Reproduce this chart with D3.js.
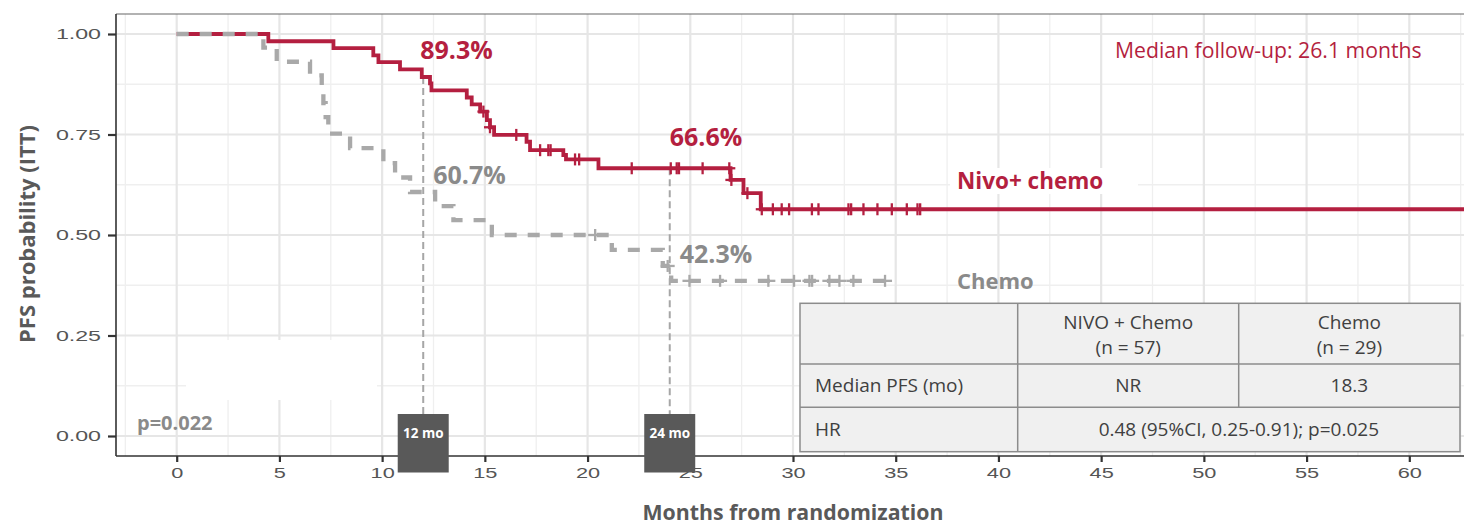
<!DOCTYPE html>
<html>
<head>
<meta charset="utf-8">
<script src="https://cdn.jsdelivr.net/npm/d3@7"></script>
<style>
  html, body { margin: 0; padding: 0; background: #ffffff; }
  svg { display: block; }
</style>
</head>
<body>
<svg id="chart" width="1464" height="525"></svg>
<script>
// ---- Kaplan-Meier data (months, survival probability after each event) ----
const nivoEventMonths = [4.46, 7.63, 9.57, 9.82, 10.87, 11.93, 12.33, 12.40, 14.12, 14.36, 14.77, 15.10, 15.25, 15.45, 17.03, 17.20, 18.82, 18.95, 20.53, 26.96, 27.59, 28.43];
const nivoSurvival    = [0.982, 0.965, 0.947, 0.930, 0.912, 0.893, 0.877, 0.860, 0.842, 0.825, 0.807, 0.786, 0.768, 0.749, 0.732, 0.711, 0.699, 0.688, 0.666, 0.637, 0.604, 0.564];
const nivoCensorMonths = [14.93, 15.25, 16.53, 17.69, 18.09, 18.20, 19.39, 19.59, 22.15, 24.05, 24.34, 24.45, 25.60, 26.90, 27.00, 27.78, 28.48, 29.02, 29.45, 29.81, 30.92, 31.24, 32.70, 32.83, 33.43, 34.11, 34.81, 35.54, 36.06, 36.19];
const nivoLastMonth = 63;

const chemoEventMonths = [4.22, 4.87, 6.49, 7.06, 7.14, 7.25, 7.38, 8.44, 10.06, 10.63, 11.36, 12.58, 13.47, 15.34, 21.18, 23.66, 24.07];
const chemoSurvival    = [0.966, 0.931, 0.897, 0.862, 0.828, 0.793, 0.752, 0.716, 0.679, 0.643, 0.607, 0.572, 0.537, 0.500, 0.463, 0.423, 0.386];
const chemoCensorMonths = [20.37, 23.90, 24.96, 26.45, 28.80, 30.05, 30.80, 30.93, 31.77, 32.26, 32.94, 34.48];
const chemoLastMonth = 34.9;

// landmark estimates
const landmarkMonths = [12, 24];
const nivoLandmarkPFS = [0.893, 0.666];
const chemoLandmarkPFS = [0.607, 0.423];
const landmarkLabels = ["12 mo", "24 mo"];

// axes
const xTickValues = [0, 5, 10, 15, 20, 25, 30, 35, 40, 45, 50, 55, 60];
const yTickValues = [0, 0.25, 0.5, 0.75, 1];

// summary table
const tableHeader = ["", ["NIVO + Chemo", "(n = 57)"], ["Chemo", "(n = 29)"]];
const tableMedianRow = ["Median PFS (mo)", "NR", "18.3"];
const tableHRRow = ["HR", "0.48 (95%CI, 0.25-0.91); p=0.025"];

// ---- styling ----
const RED = "#b41f40";
const GREY_LINE = "#a9a9a9";
const GREY_TEXT = "#8a8a8a";
const BOLD_FONT = "'Open Sans', 'Noto Sans', sans-serif";
const TICK_FONT = "'Liberation Sans', Arial, sans-serif";

const svg = d3.select("#chart");
const panel = { left: 116, right: 1464, top: 14, bottom: 456 };

const x = d3.scaleLinear().domain([0, 60]).range([176.7, 1409.3]);
const y = d3.scaleLinear().domain([0, 1]).range([436, 34]);

svg.append("defs").append("clipPath").attr("id", "panelClip")
  .append("rect")
  .attr("x", panel.left).attr("y", panel.top)
  .attr("width", panel.right - panel.left).attr("height", panel.bottom - panel.top);

// ---- grid ----
const grid = svg.append("g");
const xMax = x.invert(panel.right);
const xMinor = d3.range(-2.5, xMax, 5);
const yMinor = d3.range(0.125, 1.01, 0.25);
grid.selectAll(".vminor").data(xMinor).join("line")
  .attr("x1", d => x(d)).attr("x2", d => x(d))
  .attr("y1", panel.top).attr("y2", panel.bottom)
  .attr("stroke", "#efefef").attr("stroke-width", 1.3);
grid.selectAll(".hminor").data(yMinor).join("line")
  .attr("y1", d => y(d)).attr("y2", d => y(d))
  .attr("x1", panel.left).attr("x2", panel.right)
  .attr("stroke", "#efefef").attr("stroke-width", 1.3);
grid.selectAll(".vmajor").data(xTickValues.concat([65])).join("line")
  .attr("x1", d => x(d)).attr("x2", d => x(d))
  .attr("y1", panel.top).attr("y2", panel.bottom)
  .attr("stroke", "#e6e6e6").attr("stroke-width", 2.2);
grid.selectAll(".hmajor").data(yTickValues).join("line")
  .attr("y1", d => y(d)).attr("y2", d => y(d))
  .attr("x1", panel.left).attr("x2", panel.right)
  .attr("stroke", "#e6e6e6").attr("stroke-width", 2);

// blank patches over the grid
svg.append("rect").attr("x", 186).attr("y", 340).attr("width", 191).attr("height", 60).attr("fill", "#ffffff");
svg.append("rect").attr("x", 950).attr("y", 168).attr("width", 188).attr("height", 26).attr("fill", "#ffffff");

// ---- landmark reference lines ----
const refG = svg.append("g");
landmarkMonths.forEach((m, i) => {
  refG.append("line")
    .attr("x1", x(m)).attr("x2", x(m))
    .attr("y1", y(nivoLandmarkPFS[i])).attr("y2", 414)
    .attr("stroke", "#a6a6a6").attr("stroke-width", 2)
    .attr("stroke-dasharray", "7,4");
});

// ---- curves ----
function stepPoints(times, surv, last) {
  const pts = [[0, 1]];
  times.forEach((t, i) => pts.push([t, surv[i]]));
  pts.push([last, surv[surv.length - 1]]);
  return pts;
}
function survivalAt(times, surv, t) {
  let s = 1;
  times.forEach((tt, i) => { if (tt <= t) s = surv[i]; });
  return s;
}
const stepLine = d3.line().x(d => x(d[0])).y(d => y(d[1])).curve(d3.curveStepAfter);

const curves = svg.append("g").attr("clip-path", "url(#panelClip)");

curves.append("path")
  .attr("d", stepLine(stepPoints(nivoEventMonths, nivoSurvival, nivoLastMonth)))
  .attr("fill", "none").attr("stroke", RED).attr("stroke-width", 3.8);

const nivoCensors = curves.append("g");
nivoCensorMonths.forEach(t => {
  const cx = x(t), cy = y(survivalAt(nivoEventMonths, nivoSurvival, t));
  nivoCensors.append("line").attr("x1", cx).attr("x2", cx).attr("y1", cy - 6).attr("y2", cy + 6)
    .attr("stroke", RED).attr("stroke-width", 2.3);
  nivoCensors.append("line").attr("x1", cx - 6).attr("x2", cx + 6).attr("y1", cy).attr("y2", cy)
    .attr("stroke", RED).attr("stroke-width", 2.3);
});

curves.append("path")
  .attr("d", stepLine(stepPoints(chemoEventMonths, chemoSurvival, chemoLastMonth)))
  .attr("fill", "none").attr("stroke", GREY_LINE).attr("stroke-width", 4.3)
  .attr("stroke-dasharray", "12,11");

const chemoCensors = curves.append("g");
chemoCensorMonths.forEach(t => {
  const cx = x(t), cy = y(survivalAt(chemoEventMonths, chemoSurvival, t));
  chemoCensors.append("line").attr("x1", cx).attr("x2", cx).attr("y1", cy - 6).attr("y2", cy + 6)
    .attr("stroke", GREY_LINE).attr("stroke-width", 2.3);
  chemoCensors.append("line").attr("x1", cx - 7).attr("x2", cx + 7).attr("y1", cy).attr("y2", cy)
    .attr("stroke", GREY_LINE).attr("stroke-width", 2.3);
});

// ---- landmark percentages ----
const pct = d3.format(".1%");
const nivoLabelOffsets = [[-3, -18], [0, -22]];
const chemoLabelOffsets = [[10, -8], [10, -3]];
landmarkMonths.forEach((m, i) => {
  svg.append("text")
    .attr("x", x(m) + nivoLabelOffsets[i][0]).attr("y", y(nivoLandmarkPFS[i]) + nivoLabelOffsets[i][1])
    .attr("font-family", BOLD_FONT).attr("font-weight", 700).attr("font-size", 25)
    .attr("fill", RED).text(pct(nivoLandmarkPFS[i]));
  svg.append("text")
    .attr("x", x(m) + chemoLabelOffsets[i][0]).attr("y", y(chemoLandmarkPFS[i]) + chemoLabelOffsets[i][1])
    .attr("font-family", BOLD_FONT).attr("font-weight", 700).attr("font-size", 25)
    .attr("fill", GREY_TEXT).text(pct(chemoLandmarkPFS[i]));
});

// curve names, follow-up, p-value
svg.append("text").attr("x", 957).attr("y", 189)
  .attr("font-family", BOLD_FONT).attr("font-weight", 700).attr("font-size", 22.5)
  .attr("fill", RED).text("Nivo+ chemo");
svg.append("text").attr("x", 957).attr("y", 289)
  .attr("font-family", BOLD_FONT).attr("font-weight", 700).attr("font-size", 22)
  .attr("fill", GREY_TEXT).text("Chemo");
svg.append("text").attr("x", 1115).attr("y", 58)
  .attr("font-family", BOLD_FONT).attr("font-weight", 400).attr("font-size", 21.2)
  .attr("fill", RED).text("Median follow-up: 26.1 months");
svg.append("text").attr("x", 137).attr("y", 430)
  .attr("font-family", BOLD_FONT).attr("font-weight", 700).attr("font-size", 20)
  .attr("fill", GREY_TEXT).text("p=0.022");

// ---- axes ----
const xAxis = d3.axisBottom(x).tickValues(xTickValues).tickSize(6).tickSizeOuter(0);
const yAxis = d3.axisLeft(y).tickValues(yTickValues).tickSize(8).tickSizeOuter(0)
  .tickFormat(d3.format(".2f"));

const gx = svg.append("g").attr("transform", `translate(0,${panel.bottom})`).call(xAxis);
const gy = svg.append("g").attr("transform", `translate(${panel.left},0)`).call(yAxis);
[gx, gy].forEach(g => {
  g.select(".domain").remove();
  g.selectAll(".tick line").attr("stroke", "#333333").attr("stroke-width", 2.2);
  g.selectAll(".tick text").attr("font-family", TICK_FONT).attr("font-size", 14.5).attr("fill", "#555555");
});
// horizontally widened tick labels
gx.selectAll(".tick text").attr("dy", null).attr("y", 22).attr("transform", "scale(1.5,1)");
gy.selectAll(".tick text").attr("x", null).attr("text-anchor", "end")
  .attr("transform", "translate(-15,0) scale(1.6,1)");

// panel border lines
svg.append("line").attr("x1", panel.left).attr("x2", panel.right).attr("y1", panel.top).attr("y2", panel.top)
  .attr("stroke", "#666666").attr("stroke-width", 1.2);
svg.append("line").attr("x1", panel.left).attr("x2", panel.left).attr("y1", panel.top).attr("y2", panel.bottom)
  .attr("stroke", "#333333").attr("stroke-width", 1.6);
svg.append("line").attr("x1", panel.left).attr("x2", panel.right).attr("y1", panel.bottom).attr("y2", panel.bottom)
  .attr("stroke", "#333333").attr("stroke-width", 1.6);

// axis titles
svg.append("text").attr("x", 793).attr("y", 520).attr("text-anchor", "middle")
  .attr("font-family", BOLD_FONT).attr("font-weight", 700).attr("font-size", 21.3)
  .attr("fill", "#595959").text("Months from randomization");
svg.append("text").attr("transform", "translate(35,234) rotate(-90)").attr("text-anchor", "middle")
  .attr("font-family", BOLD_FONT).attr("font-weight", 700).attr("font-size", 22)
  .attr("fill", "#595959").text("PFS probability (ITT)");

// ---- landmark boxes ----
landmarkMonths.forEach((m, i) => {
  svg.append("rect").attr("x", x(m) - 25.5).attr("y", 414).attr("width", 51).attr("height", 58.5)
    .attr("fill", "#595959");
  svg.append("text").attr("x", x(m)).attr("y", 437.5).attr("text-anchor", "middle")
    .attr("font-family", BOLD_FONT).attr("font-weight", 700).attr("font-size", 13.5)
    .attr("fill", "#ffffff").text(landmarkLabels[i]);
});

// ---- summary table ----
const tbl = svg.append("g");
const cols = [800, 1017.7, 1238.7, 1460];
const rows = [303.3, 364, 407.3, 451.7];
const TBL_STROKE = "#8c8c8c", TBL_TEXT = "#404040";
tbl.append("rect").attr("x", cols[0]).attr("y", rows[0])
  .attr("width", cols[3] - cols[0]).attr("height", rows[3] - rows[0])
  .attr("fill", "#f0f0f0").attr("stroke", TBL_STROKE).attr("stroke-width", 1.5);
[rows[1], rows[2]].forEach(r => tbl.append("line")
  .attr("x1", cols[0]).attr("x2", cols[3]).attr("y1", r).attr("y2", r)
  .attr("stroke", TBL_STROKE).attr("stroke-width", 1.5));
tbl.append("line").attr("x1", cols[1]).attr("x2", cols[1]).attr("y1", rows[0]).attr("y2", rows[3])
  .attr("stroke", TBL_STROKE).attr("stroke-width", 1.5);
tbl.append("line").attr("x1", cols[2]).attr("x2", cols[2]).attr("y1", rows[0]).attr("y2", rows[2])
  .attr("stroke", TBL_STROKE).attr("stroke-width", 1.5);

function tText(tx, ty, s, anchor) {
  tbl.append("text").attr("x", tx).attr("y", ty).attr("text-anchor", anchor || "middle")
    .attr("font-family", BOLD_FONT).attr("font-weight", 400).attr("font-size", 19)
    .attr("fill", TBL_TEXT).text(s);
}
[1, 2].forEach(c => {
  const cx = (cols[c] + cols[c + 1]) / 2;
  tText(cx, 329, tableHeader[c][0]);
  tText(cx, 354, tableHeader[c][1]);
});
tText(815, 392, tableMedianRow[0], "start");
tText((cols[1] + cols[2]) / 2, 392, tableMedianRow[1]);
tText((cols[2] + cols[3]) / 2, 392, tableMedianRow[2]);
tText(815, 436, tableHRRow[0], "start");
tText((cols[1] + cols[3]) / 2, 436, tableHRRow[1]);
</script>
</body>
</html>
